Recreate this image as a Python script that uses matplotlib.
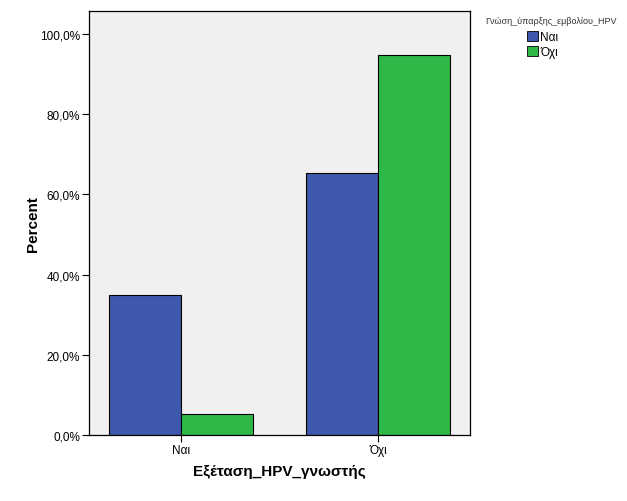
import matplotlib
matplotlib.use("Agg")
import matplotlib.pyplot as plt
import numpy as np
from matplotlib.ticker import FuncFormatter
from matplotlib.patches import Patch

plt.rcParams['font.family'] = ['Liberation Sans', 'DejaVu Sans']

categories = ['Ναι', 'Όχι']
series_names = ['Ναι', 'Όχι']
values_nai = [34.8, 65.2]
values_oxi = [5.2, 94.8]
colors = ['#3E58AC', '#2EB848']

fig = plt.figure(figsize=(6.27, 5.02), dpi=100)
ax = fig.add_axes([89/627, 66/502, 381/627, 424/502])
ax.set_facecolor('#F0F0F0')

x = np.arange(len(categories))
w = 0.368
ax.bar(x - w/2, values_nai, w, color=colors[0], edgecolor='black', linewidth=0.8, zorder=2)
ax.bar(x + w/2, values_oxi, w, color=colors[1], edgecolor='black', linewidth=0.8, zorder=2)

ax.set_xlim(-0.467, 1.467)
ax.set_ylim(0, 105.7)
ax.set_yticks([0, 20, 40, 60, 80, 100])
ax.yaxis.set_major_formatter(FuncFormatter(lambda v, p: f"{v:.1f}%".replace('.', ',')))
ax.set_xticks(x)
ax.set_xticklabels(categories)
ax.tick_params(axis='both', direction='out', length=5, width=0.8, labelsize=8.5, colors='black', pad=1.5)
for s in ax.spines.values():
    s.set_linewidth(0.9)
    s.set_color('black')

ax.set_ylabel('Percent', fontsize=11, fontweight='bold')
ax.yaxis.set_label_coords(-0.128, 0.5)
ax.set_xlabel('Εξέταση_HPV_γνωστής', fontsize=11, fontweight='bold')
ax.xaxis.set_label_coords(0.5, -0.068)

fig.text(485/627, 1 - 22/502, 'Γνώση_ύπαρξης_εμβολίου_HPV', fontsize=6.5, color='#333333', va='center', ha='left')
handles = [Patch(facecolor=colors[0], edgecolor='black', linewidth=0.6, label=series_names[0]),
           Patch(facecolor=colors[1], edgecolor='black', linewidth=0.6, label=series_names[1])]
fig.legend(handles=handles, loc='upper left', bbox_to_anchor=(525/627, 1 - 30/502), frameon=False,
           fontsize=8.5, handlelength=0.9, handleheight=0.9, handletextpad=0.2, labelspacing=0.2,
           borderaxespad=0, borderpad=0.2)

fig.savefig('out.png', dpi=100)
